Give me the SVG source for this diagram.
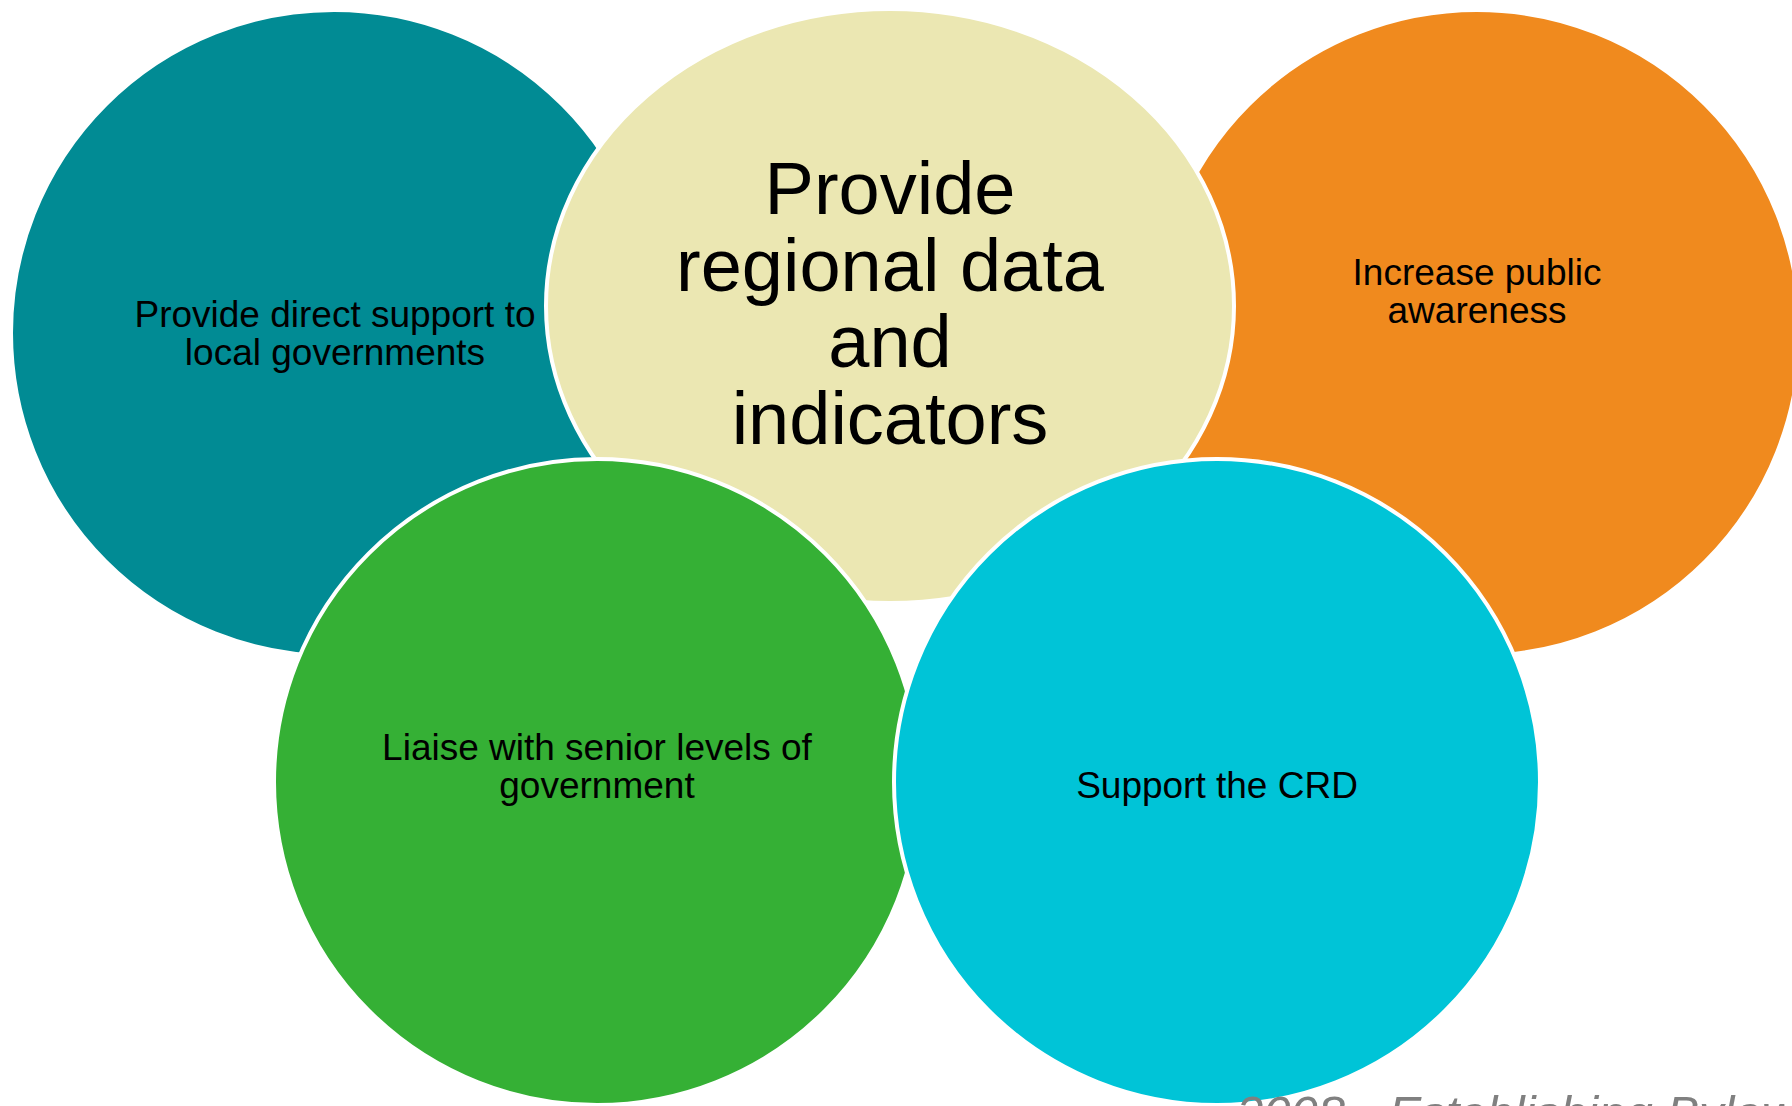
<svg xmlns="http://www.w3.org/2000/svg" width="1792" height="1106" viewBox="0 0 1792 1106">
<style>
.c{stroke:#fff;stroke-width:4}
.t{font-family:"Liberation Sans",Arial,sans-serif;font-size:37px;fill:#000;text-anchor:middle}
.big{font-family:"Liberation Sans",Arial,sans-serif;font-size:74px;fill:#000;text-anchor:middle}
.foot{font-family:"Liberation Sans",Arial,sans-serif;font-size:49px;font-style:italic;fill:#808080}
</style>
<rect width="1792" height="1106" fill="#fff"/>
<g id="node-local">
<circle class="c" cx="334" cy="333" r="323" fill="#018B94"/>
<text class="t" x="335" y="327">Provide direct support to</text>
<text class="t" x="335" y="365">local governments</text>
</g>
<g id="node-public">
<circle class="c" cx="1477" cy="333" r="323" fill="#F08A1E"/>
<text class="t" x="1477" y="285">Increase public</text>
<text class="t" x="1477" y="323">awareness</text>
</g>
<g id="node-data">
<ellipse class="c" cx="890" cy="306" rx="344" ry="297" fill="#EBE7B2"/>
<text class="big" x="890" y="214">Provide</text>
<text class="big" x="890" y="291">regional data</text>
<text class="big" x="890" y="367">and</text>
<text class="big" x="890" y="444">indicators</text>
</g>
<g id="node-senior">
<circle class="c" cx="597" cy="782" r="323" fill="#35B035"/>
<text class="t" x="597" y="760">Liaise with senior levels of</text>
<text class="t" x="597" y="798">government</text>
</g>
<g id="node-crd">
<circle class="c" cx="1217" cy="782" r="323" fill="#00C4D7"/>
<text class="t" x="1217" y="798">Support the CRD</text>
</g>
<g id="connectors"></g>
<text class="foot" x="1236" y="1130">2008 - Establishing Bylaw</text>
</svg>
